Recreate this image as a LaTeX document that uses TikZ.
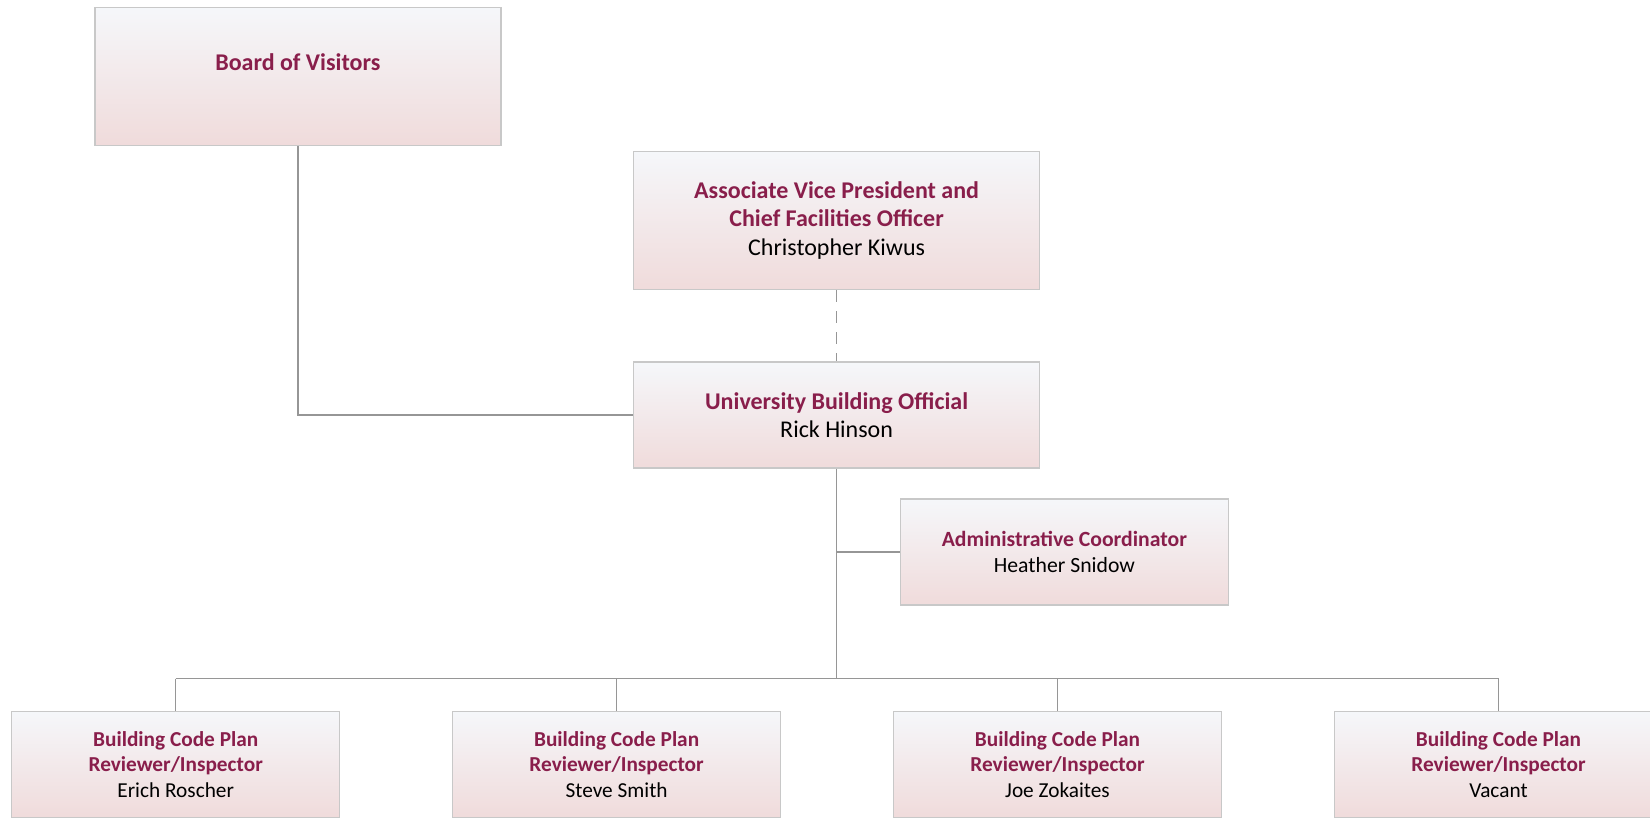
\documentclass[tikz,border=0pt]{standalone}
\usepackage{fontspec}
\setmainfont{Carlito}
\usepackage{tikz}
\usetikzlibrary{calc}

\definecolor{boxtitle}{RGB}{137,30,75}
\definecolor{boxedge}{RGB}{200,200,200}
\definecolor{boxtop}{RGB}{245,247,250}
\definecolor{boxbottom}{RGB}{240,219,219}
\definecolor{wire}{RGB}{150,150,150}

\newcommand{\boxttl}[1]{{\color{boxtitle}\bfseries #1}}

\tikzset{
  orgbox/.style={draw=boxedge, line width=1.5pt, top color=boxtop,
    bottom color=boxbottom, align=center, inner sep=0pt,
    font=\fontsize{24}{28.6}\selectfont, minimum width=406pt, minimum height=106pt},
  adminbox/.style={orgbox, minimum width=328pt,
    font=\fontsize{21.7}{26.3}\selectfont},
  smallbox/.style={orgbox, minimum width=328pt,
    font=\fontsize{21.3}{25.3}\selectfont},
  wireline/.style={draw=wire, line width=1.5pt},
}

\begin{document}
\begin{tikzpicture}[x=1pt,y=-1pt]
    \useasboundingbox (0,0) rectangle (1650,817);
    \node[orgbox, minimum height=138pt] (board) at (297.8,76.3)
        {\boxttl{Board of Visitors}\\ \phantom{Rick}};
    \node[orgbox, minimum height=138pt] (avp) at (836.6,220.5)
        {\boxttl{Associate Vice President and}\\ \boxttl{Chief Facilities Officer}\\ Christopher Kiwus};
    \node[orgbox] (ubo) at (836.6,415.2)
        {\boxttl{University Building Official}\\ Rick Hinson};
    \node[adminbox] (admin) at (1064.4,552)
        {\boxttl{Administrative Coordinator}\\ Heather Snidow};
    \node[smallbox] (insp1) at (175.7,764.4)
        {\boxttl{Building Code Plan}\\ \boxttl{Reviewer/Inspector}\\ Erich Roscher};
    \node[smallbox] (insp2) at (616.6,764.4)
        {\boxttl{Building Code Plan}\\ \boxttl{Reviewer/Inspector}\\ Steve Smith};
    \node[smallbox] (insp3) at (1057.5,764.4)
        {\boxttl{Building Code Plan}\\ \boxttl{Reviewer/Inspector}\\ Joe Zokaites};
    \node[smallbox] (insp4) at (1498.5,764.4)
        {\boxttl{Building Code Plan}\\ \boxttl{Reviewer/Inspector}\\ Vacant};
    \coordinate (bus) at (836.6,678.7);

    \draw[wireline] (board.south) |- (ubo.west);
    \draw[wireline, dash pattern=on 12pt off 9pt] (avp.south) -- (ubo.north);
    \draw[wireline] (ubo.south) -- (bus);
    \draw[wireline] (admin.west) -- (admin.west -| ubo.south);
    \draw[wireline] (bus -| insp1.north) -- (bus -| insp4.north);
    \foreach \i in {1,...,4}
        \draw[wireline] (bus -| insp\i.north) -- (insp\i.north);
\end{tikzpicture}
\end{document}
